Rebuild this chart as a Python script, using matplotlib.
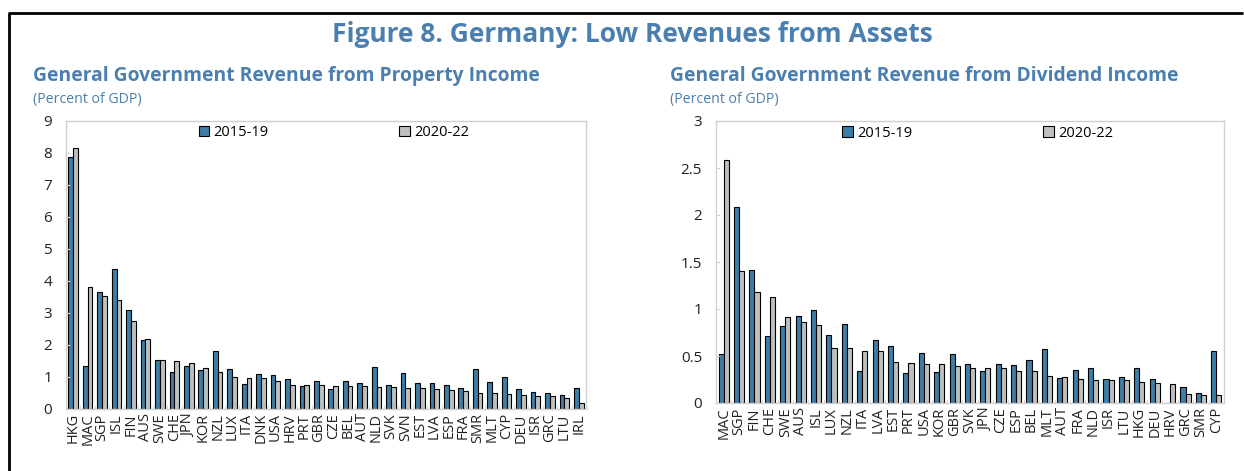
import matplotlib
matplotlib.use("Agg")
import matplotlib.pyplot as plt
from matplotlib.lines import Line2D
from matplotlib.patches import Patch
import numpy as np

plt.rcParams['font.family'] = ['Open Sans', 'DejaVu Sans']

# property income, percent of GDP
prop_cty = ['HKG', 'MAC', 'SGP', 'ISL', 'FIN', 'AUS', 'SWE', 'CHE', 'JPN', 'KOR',
            'NZL', 'LUX', 'ITA', 'DNK', 'USA', 'HRV', 'PRT', 'GBR', 'CZE', 'BEL',
            'AUT', 'NLD', 'SVK', 'SVN', 'EST', 'LVA', 'ESP', 'FRA', 'SMR', 'MLT',
            'CYP', 'DEU', 'ISR', 'GRC', 'LTU', 'IRL']
prop_1519 = [7.89, 1.35, 3.67, 4.39, 3.10, 2.15, 1.54, 1.15, 1.34, 1.23,
             1.82, 1.24, 0.77, 1.09, 1.06, 0.95, 0.71, 0.89, 0.64, 0.89,
             0.80, 1.31, 0.76, 1.11, 0.82, 0.80, 0.76, 0.67, 1.24, 0.83,
             1.00, 0.61, 0.53, 0.50, 0.43, 0.66]
prop_2022 = [8.17, 3.80, 3.54, 3.42, 2.75, 2.18, 1.54, 1.51, 1.43, 1.29,
             1.17, 1.00, 0.98, 0.97, 0.89, 0.75, 0.74, 0.74, 0.73, 0.71,
             0.71, 0.68, 0.68, 0.66, 0.66, 0.63, 0.59, 0.57, 0.51, 0.51,
             0.47, 0.45, 0.42, 0.41, 0.34, 0.18]

# dividend income, percent of GDP
div_cty = ['MAC', 'SGP', 'FIN', 'CHE', 'SWE', 'AUS', 'ISL', 'LUX', 'NZL', 'ITA',
           'LVA', 'EST', 'PRT', 'USA', 'KOR', 'GBR', 'SVK', 'JPN', 'CZE', 'ESP',
           'BEL', 'MLT', 'AUT', 'FRA', 'NLD', 'ISR', 'LTU', 'HKG', 'DEU', 'HRV',
           'GRC', 'SMR', 'CYP']
div_1519 = [0.52, 2.09, 1.41, 0.71, 0.82, 0.93, 0.99, 0.72, 0.84, 0.34,
            0.67, 0.61, 0.32, 0.53, 0.33, 0.52, 0.42, 0.34, 0.42, 0.40,
            0.46, 0.57, 0.27, 0.35, 0.37, 0.26, 0.28, 0.37, 0.26, 0.0,
            0.17, 0.11, 0.55]
div_2022 = [2.59, 1.40, 1.18, 1.13, 0.91, 0.86, 0.83, 0.58, 0.58, 0.55,
            0.55, 0.44, 0.43, 0.42, 0.41, 0.39, 0.37, 0.37, 0.37, 0.34,
            0.34, 0.29, 0.28, 0.26, 0.24, 0.24, 0.24, 0.22, 0.21, 0.20,
            0.10, 0.09, 0.08]

series_names = ['2015-19', '2020-22']

BLUE = '#3d7ea6'
GRAY = '#bfbfbf'
TITLE_C = '#4a7fb0'
AX_C = '#d0d0d0'

W, H = 1244, 471
fig = plt.figure(figsize=(W / 100, H / 100), dpi=100)


def px(x0, y0, x1, y1):
    return [x0 / W, 1 - y1 / H, (x1 - x0) / W, (y1 - y0) / H]


def bar_panel(rect, cats, a, b, ymax, yticks, ylabels):
    ax = fig.add_axes(rect)
    x = np.arange(len(cats))
    w = 0.33
    ax.bar(x - w / 2, a, w, color=BLUE, edgecolor='black', linewidth=0.8)
    ax.bar(x + w / 2, b, w, color=GRAY, edgecolor='black', linewidth=0.8)
    ax.set_xlim(-0.5, len(cats) - 0.5)
    ax.set_ylim(0, ymax)
    ax.set_xticks(x)
    ax.set_xticklabels(cats, rotation=90, fontsize=10.5, color='#222222')
    ax.set_xticks(np.arange(len(cats) + 1) - 0.5, minor=True)
    ax.tick_params(axis='x', which='major', length=0, pad=3)
    ax.tick_params(axis='x', which='minor', direction='in', length=3, color=AX_C)
    ax.set_yticks(yticks)
    ax.set_yticklabels(ylabels, fontsize=11, color='#222222')
    ax.tick_params(axis='y', direction='in', length=3, color=AX_C, pad=10)
    for s in ax.spines.values():
        s.set_color(AX_C)
        s.set_linewidth(1)
    handles = [Patch(facecolor=BLUE, edgecolor='black', linewidth=0.8),
               Patch(facecolor=GRAY, edgecolor='black', linewidth=0.8)]
    ax.legend(handles, series_names, loc='upper center', ncol=2, frameon=False,
              fontsize=10.5, handlelength=0.7, handleheight=0.7, handletextpad=0.3,
              columnspacing=9.0, bbox_to_anchor=(0.515, 1.03))
    return ax


bar_panel(px(66, 121, 586, 409), prop_cty, prop_1519, prop_2022,
          9, range(10), [str(i) for i in range(10)])
bar_panel(px(716, 121, 1224, 403), div_cty, div_1519, div_2022,
          3, np.arange(0, 3.01, 0.5), ['0', '0.5', '1', '1.5', '2', '2.5', '3'])

fig.text(632 / W, 1 - 35 / H, 'Figure 8. Germany: Low Revenues from Assets',
         ha='center', va='center', fontsize=19, fontweight='bold', color=TITLE_C)
fig.text(33 / W, 1 - 76 / H, 'General Government Revenue from Property Income',
         ha='left', va='center', fontsize=13.9, fontweight='bold', color=TITLE_C)
fig.text(33 / W, 1 - 99 / H, '(Percent of GDP)',
         ha='left', va='center', fontsize=10.2, color=TITLE_C)
fig.text(670 / W, 1 - 76 / H, 'General Government Revenue from Dividend Income',
         ha='left', va='center', fontsize=13.9, fontweight='bold', color=TITLE_C)
fig.text(670 / W, 1 - 99 / H, '(Percent of GDP)',
         ha='left', va='center', fontsize=10.2, color=TITLE_C)

# outer box: top and left edge only
fig.add_artist(Line2D([8 / W, 1243 / W], [1 - 13 / H, 1 - 13 / H], color='black', lw=2,
                      solid_capstyle='butt'))
fig.add_artist(Line2D([9 / W, 9 / W], [0, 1 - 13 / H], color='black', lw=2,
                      solid_capstyle='butt'))

fig.savefig('out.png', dpi=100)
